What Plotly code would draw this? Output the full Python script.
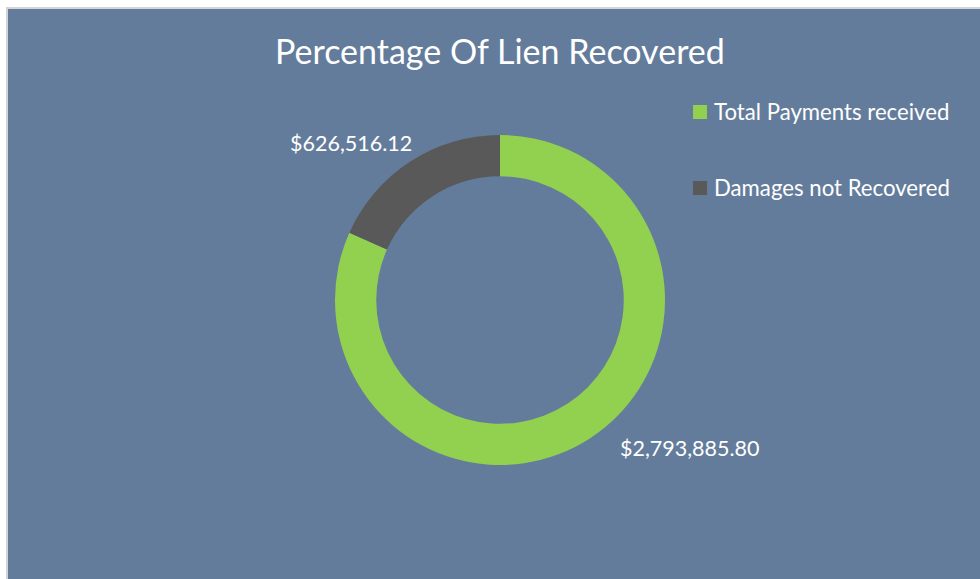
import plotly.graph_objects as go

labels = ["Total Payments received", "Damages not Recovered"]
values = [2793885.80, 626516.12]
colors = ["#92D050", "#595959"]
title = "Percentage Of Lien Recovered"

W, H = 980, 579
FONT = "Lato"

fig = go.Figure()
fig.add_trace(go.Pie(
    labels=labels, values=values, hole=0.75, sort=False,
    direction="clockwise", rotation=0,
    marker=dict(colors=colors, line=dict(width=0)),
    textinfo="none", showlegend=False,
    domain=dict(x=[335 / W, 665 / W], y=[(H - 465) / H, (H - 135) / H]),
))

def fmt(v):
    return "${:,.2f}".format(v)

# data labels
label_pos = [(690, 448), (351, 143)]
annotations = []
for v, (px, py) in zip(values, label_pos):
    annotations.append(dict(x=px / W, y=1 - py / H, xref="paper", yref="paper",
                            text=fmt(v), showarrow=False,
                            font=dict(family=FONT, size=21.5, color="white"),
                            xanchor="center", yanchor="middle"))

# background panel and legend
shapes = [dict(type="rect", xref="paper", yref="paper", x0=7 / W, x1=1.01, y0=-0.01, y1=1 - 8 / H,
               fillcolor="#647C9B", line=dict(color="#D4D4D4", width=2), layer="below")]
leg_y = [112, 188]
for lab, col, ly in zip(labels, colors, leg_y):
    shapes.append(dict(type="rect", xref="paper", yref="paper",
                       x0=693 / W, x1=707 / W, y0=1 - (ly + 7) / H, y1=1 - (ly - 7) / H,
                       fillcolor=col, line=dict(width=0)))
    annotations.append(dict(x=712 / W, y=1 - ly / H, xref="paper", yref="paper",
                            text=lab, showarrow=False, xanchor="left", yanchor="middle",
                            font=dict(family=FONT, size=22.2, color="white")))

annotations.append(dict(x=500 / W, y=1 - 51 / H, xref="paper", yref="paper",
                        text=title, showarrow=False, xanchor="center", yanchor="middle",
                        font=dict(family=FONT, size=34, color="white")))

fig.update_layout(
    width=W, height=H, margin=dict(l=0, r=0, t=0, b=0),
    paper_bgcolor="white", plot_bgcolor="white",
    shapes=shapes, annotations=annotations,
    font=dict(family=FONT, color="white"),
)

fig.write_html("out.html", config={"displayModeBar": False},
               post_script="document.body.style.margin='0px';")
